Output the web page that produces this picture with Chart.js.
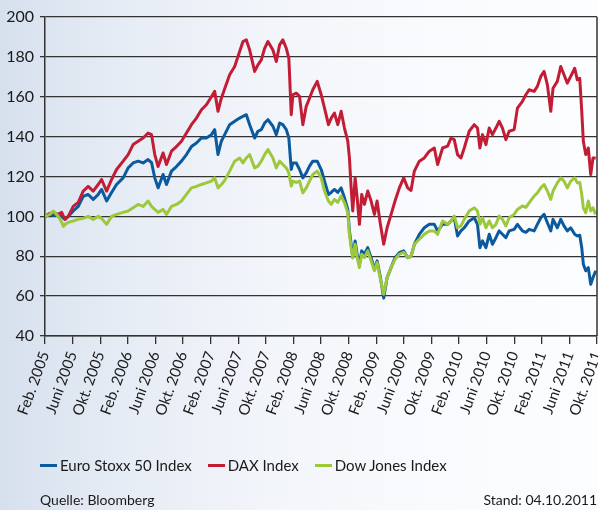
<!DOCTYPE html>
<html><head><meta charset="utf-8">
<script src="https://cdn.jsdelivr.net/npm/chart.js@4"></script>
<style>
html,body{margin:0;padding:0;}
body{width:598px;height:510px;overflow:hidden;position:relative;font-family:Lato,"Open Sans",sans-serif;
background:linear-gradient(to right,#d6e0ed 0%,#e6ecf5 20%,#f2f5fa 45%,#f9fafd 70%,#fcfdfe 100%);}
#wrap{position:absolute;left:0;top:0;width:598px;height:510px;}
.foot{position:absolute;top:491px;font-size:14px;line-height:17px;color:#1a1a1a;white-space:nowrap;}
#legend{position:absolute;left:40px;top:456px;display:flex;align-items:center;font-size:15px;line-height:18px;color:#1a1a1a;white-space:nowrap;}
#legend .item{display:flex;align-items:center;margin-right:16px;}
#legend .sw{width:17px;height:3px;margin-right:3px;}
</style></head><body>
<div id="wrap"><canvas id="c" width="598" height="510"></canvas></div>
<div id="legend"></div>
<div class="foot" style="left:40px">Quelle: Bloomberg</div>
<div class="foot" style="right:1px">Stand: 04.10.2011</div>
<script>
// Tick labels (every 4 months starting Feb. 2005)
const tickLabels = ["Feb. 2005","Juni 2005","Okt. 2005","Feb. 2006","Juni 2006","Okt. 2006","Feb. 2007","Juni 2007","Okt. 2007","Feb. 2008","Juni 2008","Okt. 2008","Feb. 2009","Juni 2009","Okt. 2009","Feb. 2010","Juni 2010","Okt. 2010","Feb. 2011","Juni 2011","Okt. 2011"];

// Months since Feb. 2005
const months = [0,0.72,1.2,1.92,2.42,2.68,2.89,3.37,4.09,4.82,5.54,6.26,6.99,7.71,8.2,8.93,9.65,10.37,11.33,12.05,12.77,13.5,14.22,14.94,15.44,15.91,16.39,17.11,17.61,18.33,19.05,19.78,20.5,21.22,21.95,22.67,23.39,24.12,24.59,25.07,25.56,26.04,26.76,27.49,28.21,28.69,29.18,29.66,30.38,30.86,31.35,31.83,32.31,33.03,33.52,34.0,34.47,34.97,35.34,35.69,35.92,36.41,36.89,37.37,37.86,38.34,38.81,39.45,40.03,40.51,41.08,41.48,41.95,42.43,42.92,43.4,43.88,44.12,44.37,44.6,44.95,45.24,45.57,45.9,46.29,46.77,47.26,47.74,48.13,48.61,49.09,49.58,50.16,50.73,51.36,51.98,52.56,53.05,53.53,54.25,54.97,55.7,56.42,56.9,57.62,58.35,58.84,59.31,59.79,60.28,60.76,61.48,62.21,62.68,63.03,63.41,63.9,64.38,64.85,65.35,65.82,66.3,66.79,67.27,67.99,68.47,69.19,69.69,70.16,70.89,71.36,71.85,72.33,72.81,73.3,73.63,74.25,74.75,75.22,75.7,76.19,76.77,77.15,77.5,77.79,78.02,78.37,78.74,79.09,79.42,79.81];

const dax = [100,101.5,102,101,102,100,98.5,100,105,107,112.7,115,112.7,116,118.5,112.7,118.5,123.5,127.7,131,136,137.7,139.3,141.8,141,131,125,131.8,126,132.7,135,137.7,141.8,146,149.3,153.5,156,160,162.7,152.7,159.3,164,171,175.2,182.7,187.7,188.5,183.5,172.7,176,178.5,184.3,187.7,183.5,177.7,186,188.5,184.3,179.3,151,161,161.8,160.2,146,155.2,159.3,163.5,167.7,161,154.3,146,149.3,151.8,146,152.7,144.3,137.7,129.3,114.3,102.7,119.3,109.3,96,111,106,112.7,107.7,101,107.7,96,86,94.3,101,107.7,114.3,119.3,114.3,113,122.7,127.7,129.3,132.7,134.3,126,134.3,135.2,139.3,138.5,131,129.3,134.3,142.7,146,144.3,134.3,141,136,144.3,141,144.3,147.7,144.3,138.5,142.7,143.5,154.3,157.7,161,163.5,162.7,165.2,170.2,172.7,166,152.7,164.3,167.7,175.2,171,166.8,170.2,174.3,168.5,169.3,152.7,137.7,131,134.3,121,129.3,129.3];

const euroStoxx = [100,101,100.5,100.5,100,99,98.5,100,102.7,105,110,111,108.5,111,113.5,107.7,112,116,119.3,124.3,126.8,127.7,126.8,128.5,127,119.3,114.3,121,116,122.7,125,127.7,131,135,136.8,139.3,139.3,141,143.5,131,137.7,141,146,147.7,149.3,150.2,151,146,139.3,142.7,143.5,146.8,148.5,145.2,141,146.8,146,143.5,139.3,123.5,126.8,126.8,123.5,119.3,121.8,125.2,127.7,127.7,123.5,117.7,111,112,113.5,112,114.3,109.3,103.5,92.7,86,79.3,87.7,81,76,82.7,81,84.3,79.3,73.5,77.7,69.3,59,69.3,74.3,79.3,81.8,82.7,79.3,80,86,91,94.3,96,96,92.7,96,96,97.7,99.3,90.2,92.7,94.3,97.7,99.3,96,84.3,87.7,84.3,91,86,89.3,92.7,91,89.3,92.7,93.5,96,92.7,92,93.5,92.7,96,99.3,101,96.8,92.7,98.5,94.3,98.5,95.2,92.7,94.3,91,90.2,90.5,84.3,76,72.7,74.3,66,69.3,72.7];

const dowJones = [100,101,102.7,100,97,95,96,97,97.7,98.5,99,100,98.5,100,99,96,100,101,102,102.7,104.3,106,105,107.7,105,103.5,102,103.5,101,105,106,107.7,111,114.3,115,116,116.8,117.7,119.3,114.3,116,118,122.7,127.7,129.3,126.8,129.3,131,124.3,125.2,127.7,131,133.5,129.3,124.3,127.7,126,124.3,121.8,115.2,117.7,117,117.7,111.8,114.3,117.7,121,122.7,119.3,112.7,107.7,106,108.5,107,110.2,106.8,101.8,91,84.3,79.3,86,79.3,74.3,81,79.3,82.7,77.7,72.7,76.8,68.5,61,69.3,74.3,78.5,81,82,79.3,80,86,88.5,91,92.7,92.7,91,97.7,96,97.7,100.2,94.3,95.2,98.5,102.7,104.3,102.7,96,99.3,94.3,97.7,94.3,96,100.2,98.5,95.2,99.3,101,103.5,105.2,104.5,106.8,110.2,111.8,114.3,116,112.7,108.5,112.7,116.8,119.3,117.7,114.3,117.7,119.3,116.8,117,111,104.3,101.8,107.7,102.7,104.3,101];

const seriesNames = ["Euro Stoxx 50 Index","DAX Index","Dow Jones Index"];
const seriesColors = ["#0b5a9e","#c21d34","#9dc83c"];

const toPts = arr => arr.map((v,i)=>({x:months[i], y:v}));

// HTML legend
const lg = document.getElementById('legend');
seriesNames.forEach((n,i)=>{
  const it=document.createElement('div'); it.className='item';
  const sw=document.createElement('span'); sw.className='sw'; sw.style.background=seriesColors[i];
  const tx=document.createElement('span'); tx.textContent=n;
  it.appendChild(sw); it.appendChild(tx); lg.appendChild(it);
});

const framePlugin = {
  id:'frame',
  afterDraw(chart){
    const {ctx, chartArea:a} = chart;
    ctx.save();
    ctx.strokeStyle='#333'; ctx.lineWidth=1.5;
    ctx.beginPath(); ctx.moveTo(a.right, a.top); ctx.lineTo(a.right, a.bottom); ctx.stroke();
    ctx.restore();
  }
};

const fontFam = 'Lato, "Open Sans", sans-serif';

new Chart(document.getElementById('c'), {
  type:'line',
  data:{
    datasets:[
      {label:seriesNames[0], data:toPts(euroStoxx), borderColor:seriesColors[0], backgroundColor:seriesColors[0], order:2},
      {label:seriesNames[1], data:toPts(dax), borderColor:seriesColors[1], backgroundColor:seriesColors[1], order:1},
      {label:seriesNames[2], data:toPts(dowJones), borderColor:seriesColors[2], backgroundColor:seriesColors[2], order:0}
    ]
  },
  options:{
    responsive:false,
    animation:false,
    elements:{point:{radius:0}, line:{borderWidth:3, tension:0, borderJoinStyle:'round'}},
    layout:{padding:{top:17, left:0, right:1, bottom:64}},
    plugins:{
      tooltip:{enabled:false},
      legend:{display:false}
    },
    scales:{
      x:{
        type:'linear', min:0, max:80,
        afterFit:s=>{s.height=110; s.paddingRight=0; s.paddingLeft=0;},
        ticks:{stepSize:4, autoSkip:false, minRotation:70, maxRotation:70, padding:5,
          color:'#1a1a1a', font:{family:fontFam, size:15},
          callback:v=>{const i=Math.round(v/4); return (Math.abs(v-4*i)<1e-6)? tickLabels[i] : '';}},
        grid:{drawOnChartArea:false, drawTicks:true, tickLength:8, color:'#333', lineWidth:1.3},
        border:{display:true, color:'#333', width:1.5}
      },
      y:{
        min:40, max:200,
        afterFit:s=>{s.width=45;},
        ticks:{stepSize:20, padding:6, color:'#1a1a1a', font:{family:fontFam, size:16}},
        grid:{color:'#333', lineWidth:1.3, tickLength:5},
        border:{display:true, color:'#333', width:1.5}
      }
    }
  },
  plugins:[framePlugin]
});
</script>
</body></html>
